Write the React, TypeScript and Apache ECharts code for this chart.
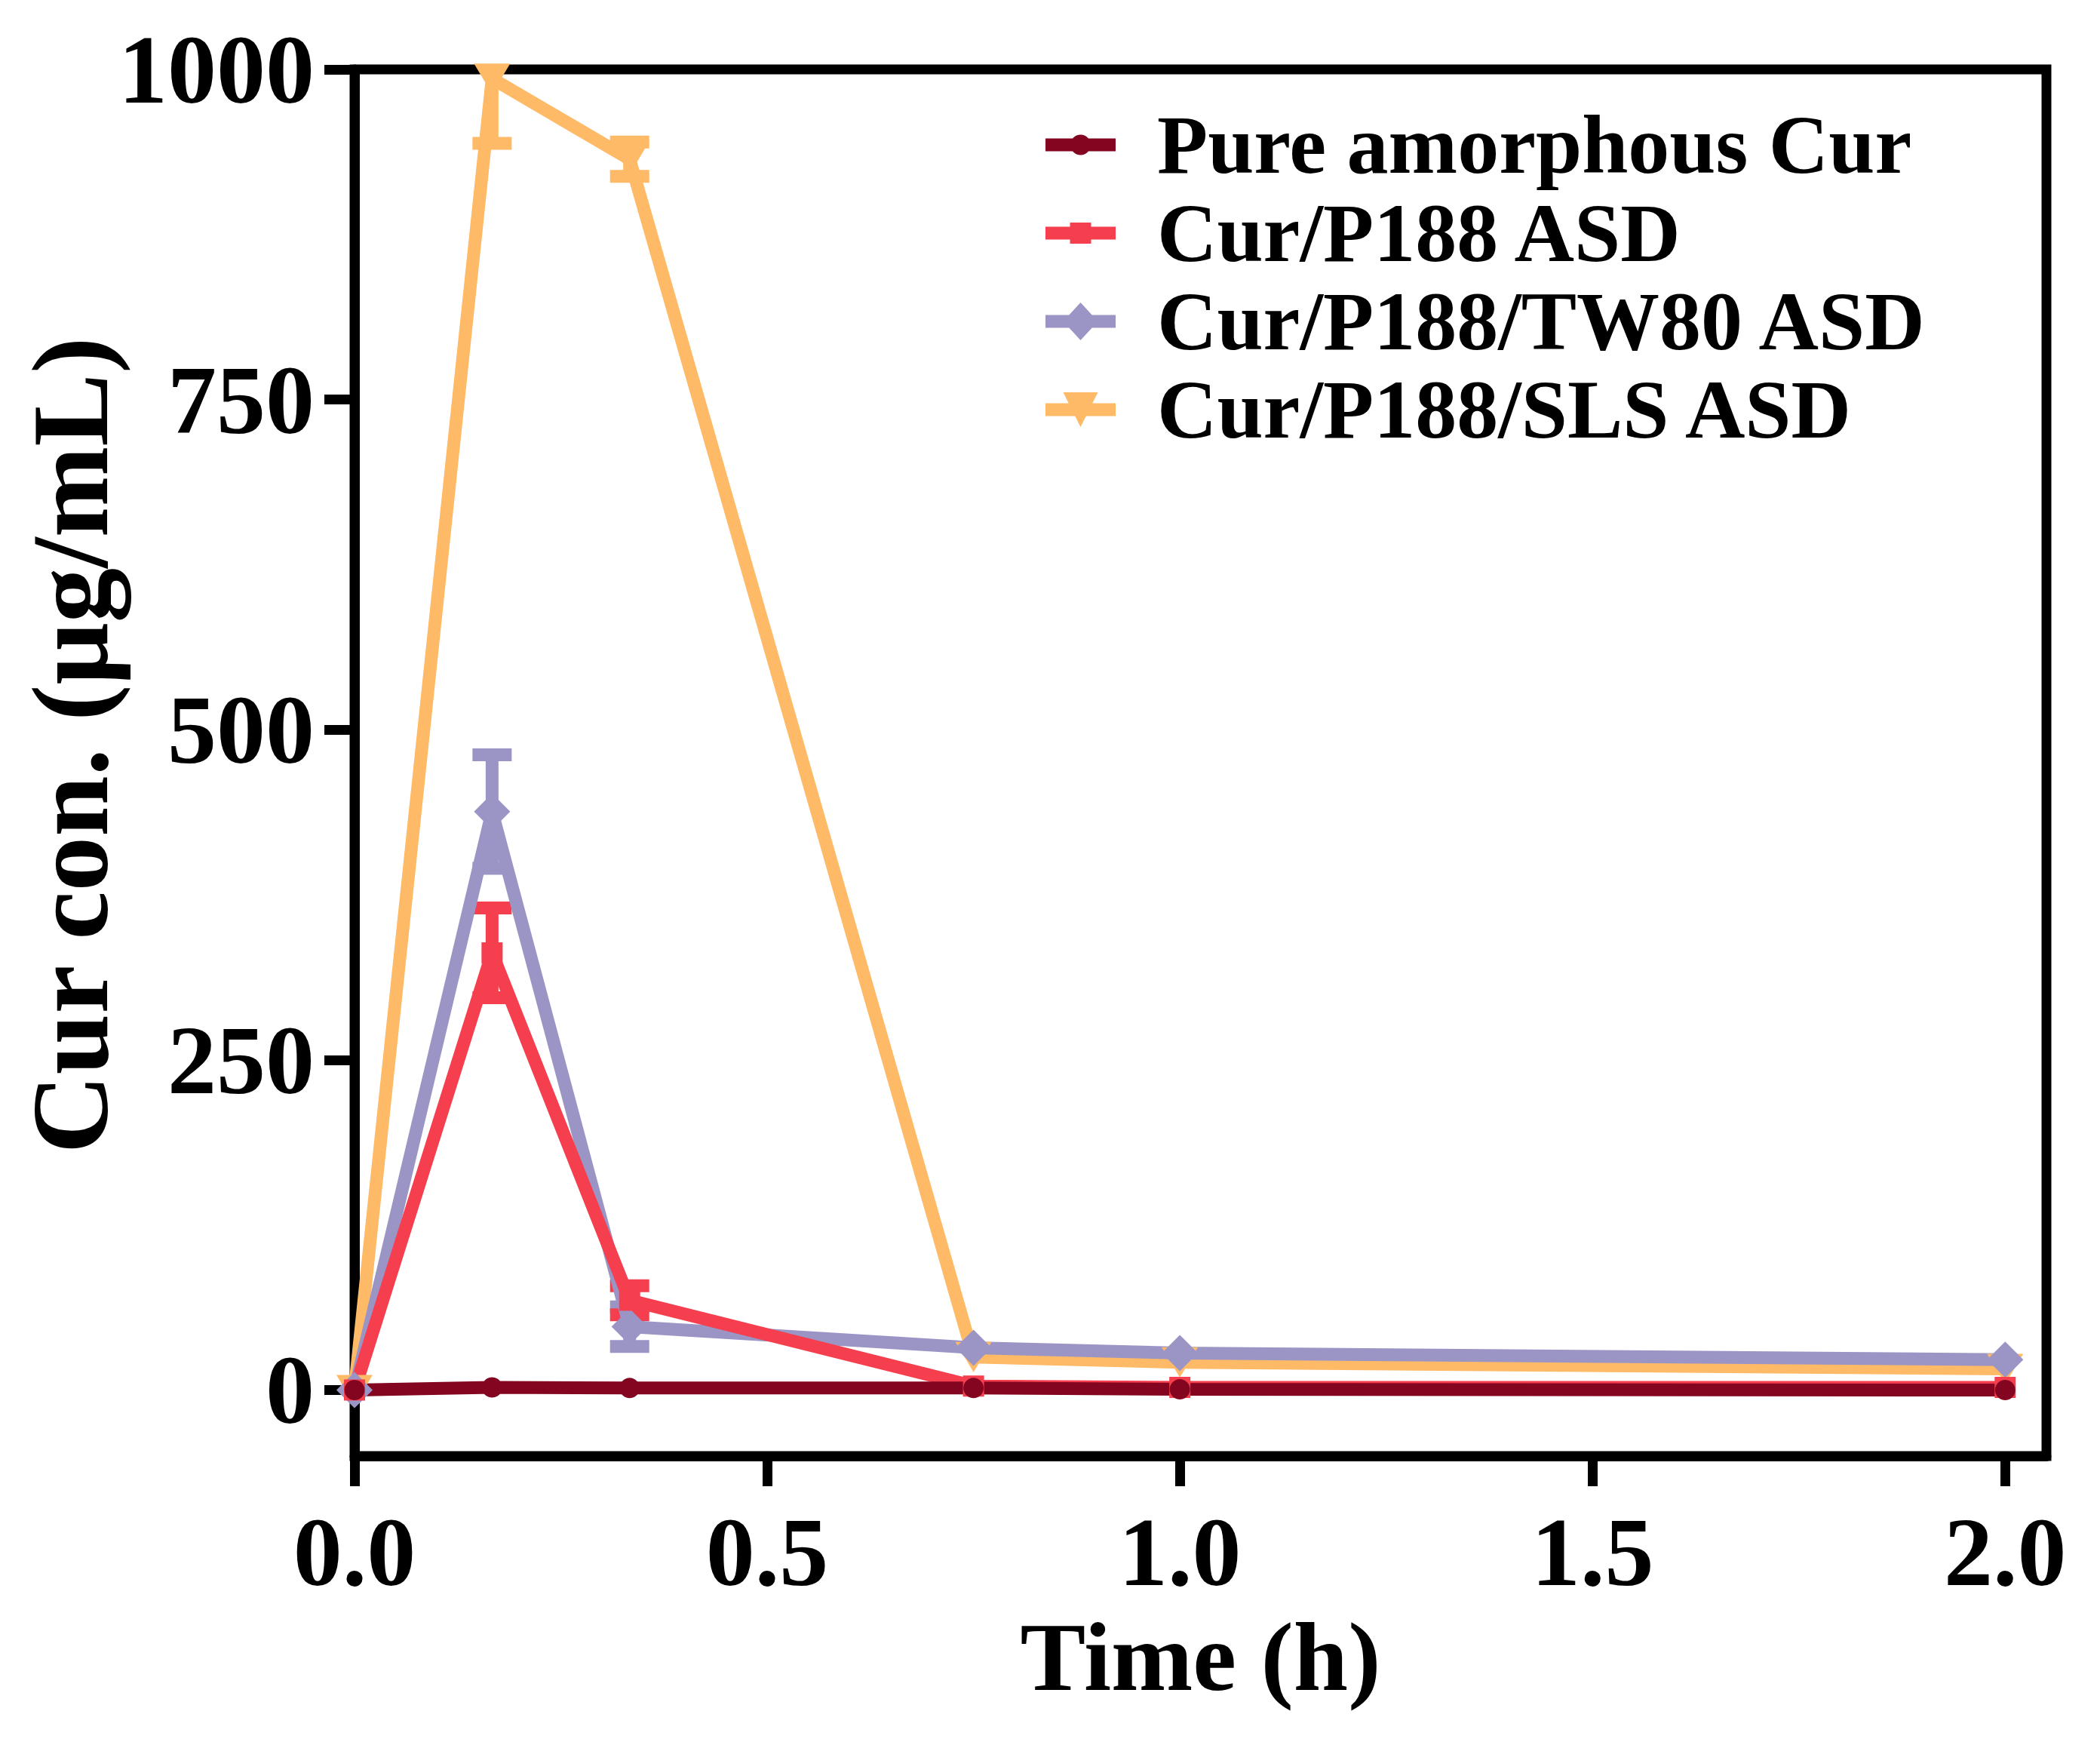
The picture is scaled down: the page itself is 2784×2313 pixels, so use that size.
import * as echarts from "echarts";
import { useEffect, useRef } from "react";

// sampling times (h)
const times = [0, 1 / 6, 1 / 3, 0.75, 1, 2];
const seriesNames = ["Pure amorphous Cur", "Cur/P188 ASD", "Cur/P188/TW80 ASD", "Cur/P188/SLS ASD"];
const pureMean = [0, 2, 1.5, 1.5, 0.5, 0];
const pureSd = [0, 0, 0, 0, 0, 0];
const p188Mean = [0, 331, 68, 3, 2, 2];
const p188Sd = [0, 34, 11, 0, 0, 0];
const tw80Mean = [0, 438, 48, 32, 28, 23];
const tw80Sd = [0, 43, 15, 0, 0, 0];
const slsMean = [0, 993, 932, 25, 21, 16];
const slsSd = [0, 49, 13, 0, 0, 0];
const xTicks = [0, 0.5, 1, 1.5, 2];
const yTicks = [0, 250, 500, 750, 1000];
const colors = ["#830520", "#F53F4F", "#9B95C6", "#FEBA66"];

const FONT = "'Liberation Serif', 'Times New Roman', serif";

// legend icons: line with the marker on it
const legendIcons = [
  "path://M0 5L93 5L93 22L0 22Z M33 13.5A13.5 13.5 0 1 1 60 13.5A13.5 13.5 0 1 1 33 13.5Z",
  "path://M0 5.5L32.5 5.5L32.5 0L60.5 0L60.5 5.5L93 5.5L93 22.5L60.5 22.5L60.5 28L32.5 28L32.5 22.5L0 22.5Z",
  "path://M0 16.5L31.3 16.5L46.5 0L61.7 16.5L93 16.5L93 33.5L61.7 33.5L46.5 50L31.3 33.5L0 33.5Z",
  "path://M0 14.5L30.75 14.5L23.5 0L69.5 0L62.25 14.5L93 14.5L93 31.5L53.75 31.5L46.5 46L39.25 31.5L0 31.5Z",
];

const errorBars = (name: string, mean: number[], sd: number[], color: string) => ({
  type: "custom",
  name,
  silent: true,
  clip: true,
  data: times.map((t, i) => [t, mean[i], sd[i]]),
  renderItem: (_params: any, api: any) => {
    const e = api.value(2);
    if (!e) return null;
    const x = api.value(0);
    const y = api.value(1);
    const hi = api.coord([x, y + e]);
    const lo = api.coord([x, y - e]);
    const style = { stroke: color, lineWidth: 17 };
    return {
      type: "group",
      children: [
        { type: "line", shape: { x1: hi[0], y1: hi[1], x2: lo[0], y2: lo[1] }, style },
        { type: "line", shape: { x1: hi[0] - 26, y1: hi[1], x2: hi[0] + 26, y2: hi[1] }, style },
        { type: "line", shape: { x1: lo[0] - 26, y1: lo[1], x2: lo[0] + 26, y2: lo[1] }, style },
      ],
    };
  },
});

const lineSeries = (
  name: string,
  mean: number[],
  color: string,
  symbol: string,
  symbolSize: number | number[],
  symbolRotate = 0
) => ({
  type: "line",
  name,
  data: times.map((t, i) => [t, mean[i]]),
  symbol,
  symbolSize,
  symbolRotate,
  clip: false,
  lineStyle: { color, width: 17 },
  itemStyle: { color, borderWidth: 0 },
});

export default function App() {
  const chartRef = useRef<HTMLDivElement>(null);

  useEffect(() => {
    document.body.style.margin = "0";
    const chart = echarts.init(chartRef.current!, null, { renderer: "svg" });
    chart.setOption({
      animation: false,
      backgroundColor: "#fff",
      grid: {
        left: 470,
        right: 71,
        top: 92,
        bottom: 383,
        outerBoundsMode: "none",
        containLabel: false,
        show: true,
        borderColor: "#000",
        borderWidth: 13,
        backgroundColor: "transparent",
      },
      legend: {
        orient: "vertical",
        left: 1386,
        top: 137,
        padding: 0,
        itemWidth: 93,
        itemHeight: 52,
        itemGap: 7,
        selectedMode: false,
        itemStyle: { borderWidth: 0 },
        textStyle: {
          fontFamily: FONT,
          fontWeight: "bold",
          fontSize: 110,
          lineHeight: 110,
          color: "#000",
          padding: [0, 0, 0, 50],
        },
        data: seriesNames.map((name, i) => ({ name, icon: legendIcons[i] })),
      },
      xAxis: {
        type: "value",
        min: 0,
        max: 2.05,
        name: "Time (h)",
        nameLocation: "middle",
        nameGap: 201,
        nameMoveOverlap: false,
        nameTextStyle: { fontFamily: FONT, fontWeight: "bold", fontSize: 130, color: "#000" },
        axisLine: { show: true, onZero: false, lineStyle: { color: "#000", width: 13 } },
        axisTick: {
          show: true,
          length: 40,
          customValues: xTicks,
          lineStyle: { color: "#000", width: 13 },
        },
        axisLabel: {
          customValues: xTicks,
          formatter: (v: number) => v.toFixed(1),
          margin: 62,
          fontFamily: FONT,
          fontWeight: "bold",
          fontSize: 130,
          color: "#000",
        },
        splitLine: { show: false },
      },
      yAxis: {
        type: "value",
        min: -50,
        max: 1000,
        name: "Cur con. (μg/mL)",
        nameLocation: "middle",
        nameGap: 305,
        nameMoveOverlap: false,
        nameTextStyle: {
          fontFamily: FONT,
          fontWeight: "bold",
          fontSize: 145,
          color: "#000",
          padding: [0, 0, 0, 46],
        },
        axisLine: { show: true, onZero: false, lineStyle: { color: "#000", width: 13 } },
        axisTick: {
          show: true,
          length: 40,
          customValues: yTicks,
          lineStyle: { color: "#000", width: 13 },
        },
        axisLabel: {
          customValues: yTicks,
          formatter: (v: number) => String(v),
          margin: 53,
          fontFamily: FONT,
          fontWeight: "bold",
          fontSize: 130,
          color: "#000",
        },
        splitLine: { show: false },
      },
      series: [
        errorBars("SLS SD", slsMean, slsSd, colors[3]),
        lineSeries(seriesNames[3], slsMean, colors[3], "triangle", [48, 40], 180),
        errorBars("TW80 SD", tw80Mean, tw80Sd, colors[2]),
        lineSeries(seriesNames[2], tw80Mean, colors[2], "diamond", 48),
        errorBars("P188 SD", p188Mean, p188Sd, colors[1]),
        lineSeries(seriesNames[1], p188Mean, colors[1], "rect", 28),
        errorBars("Pure SD", pureMean, pureSd, colors[0]),
        lineSeries(seriesNames[0], pureMean, colors[0], "circle", 27),
      ],
    });
    return () => chart.dispose();
  }, []);

  return <div ref={chartRef} style={{ width: 2784, height: 2313 }} />;
}
